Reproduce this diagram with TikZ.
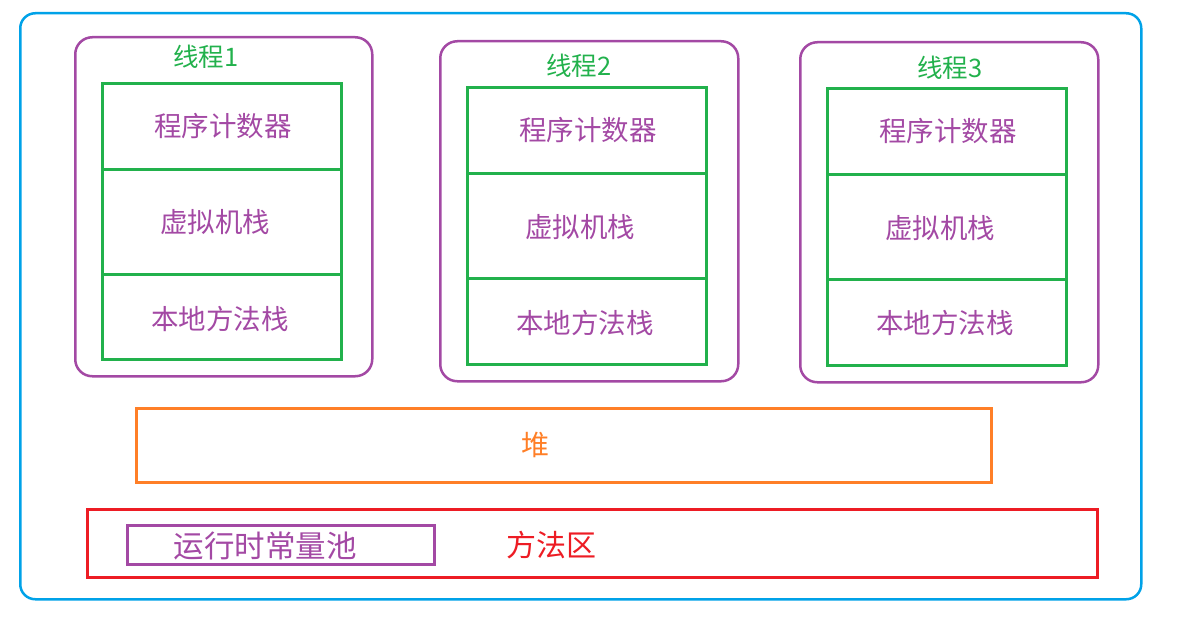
\documentclass[tikz,border=0pt]{standalone}
\usepackage{fontspec}
\setmainfont{Noto Sans CJK SC}
\definecolor{cblue}{HTML}{00A2E8}
\definecolor{cpurple}{HTML}{A349A4}
\definecolor{cgreen}{HTML}{22B14C}
\definecolor{corange}{HTML}{FF7F27}
\definecolor{cred}{HTML}{ED1C24}
\begin{document}
\begin{tikzpicture}[x=1pt,y=-1pt,
  thread/.style={draw=cpurple,line width=2.5pt,rounded corners=17pt,inner sep=0pt,anchor=north west},
  gbox/.style={draw=cgreen,line width=3pt,inner sep=0pt,anchor=north west,minimum width=239pt},
  gtext/.style={text=cpurple,font=\fontsize{27.5}{30}\selectfont,inner sep=0pt},
  tlabel/.style={text=cgreen,font=\fontsize{25.5}{28}\selectfont,inner sep=0pt}]
\useasboundingbox (0,0) rectangle (1178,634);
\node[draw=cblue,line width=2.5pt,rounded corners=15pt,anchor=north west,minimum width=1121pt,minimum height=586pt,inner sep=0pt] (outer) at (19,12) {};
% thread 1
\node[thread,minimum width=297pt,minimum height=339pt] (t1) at (74,36) {};
\node[tlabel] (l1) at (206,57) {线程1};
\node[gbox,minimum height=86pt] (pc1) at (101,82) {};
\node[gbox,minimum height=105pt] (vm1) at (101,168) {};
\node[gbox,minimum height=85pt] (nm1) at (101,273) {};
\node[gtext] at (223,126) {程序计数器};
\node[gtext] at (215,222) {虚拟机栈};
\node[gtext] at (220,319) {本地方法栈};
% thread 2
\node[thread,minimum width=298pt,minimum height=340pt] (t2) at (439,40) {};
\node[tlabel] (l2) at (579,66) {线程2};
\node[gbox,minimum height=86pt] (pc2) at (466,86) {};
\node[gbox,minimum height=105pt] (vm2) at (466,172) {};
\node[gbox,minimum height=86pt] (nm2) at (466,277) {};
\node[gtext] at (588,130) {程序计数器};
\node[gtext] at (580,227) {虚拟机栈};
\node[gtext] at (585,323) {本地方法栈};
% thread 3
\node[thread,minimum width=298pt,minimum height=340pt] (t3) at (799,41) {};
\node[tlabel] (l3) at (950,68) {线程3};
\node[gbox,minimum height=86pt] (pc3) at (826,87) {};
\node[gbox,minimum height=105pt] (vm3) at (826,173) {};
\node[gbox,minimum height=86pt] (nm3) at (826,278) {};
\node[gtext] at (948,131) {程序计数器};
\node[gtext] at (940,228) {虚拟机栈};
\node[gtext] at (945,323) {本地方法栈};
% heap
\node[draw=corange,line width=3pt,anchor=north west,minimum width=855pt,minimum height=74pt,inner sep=0pt] (heap) at (135,407) {};
\node[text=corange,font=\fontsize{28}{30}\selectfont,inner sep=0pt] (heapl) at (535,445) {堆};
% method area
\node[draw=cred,line width=3pt,anchor=north west,minimum width=1010pt,minimum height=68pt,inner sep=0pt] (ma) at (86,508) {};
\node[text=cred,font=\fontsize{30}{32}\selectfont,inner sep=0pt] (mal) at (551,545) {方法区};
\node[draw=cpurple,line width=3pt,anchor=north west,minimum width=307pt,minimum height=39pt,inner sep=0pt] (rcp) at (126,524) {};
\node[text=cpurple,font=\fontsize{30.5}{32}\selectfont,inner sep=0pt] (rcpl) at (265,546) {运行时常量池};
\end{tikzpicture}
\end{document}
